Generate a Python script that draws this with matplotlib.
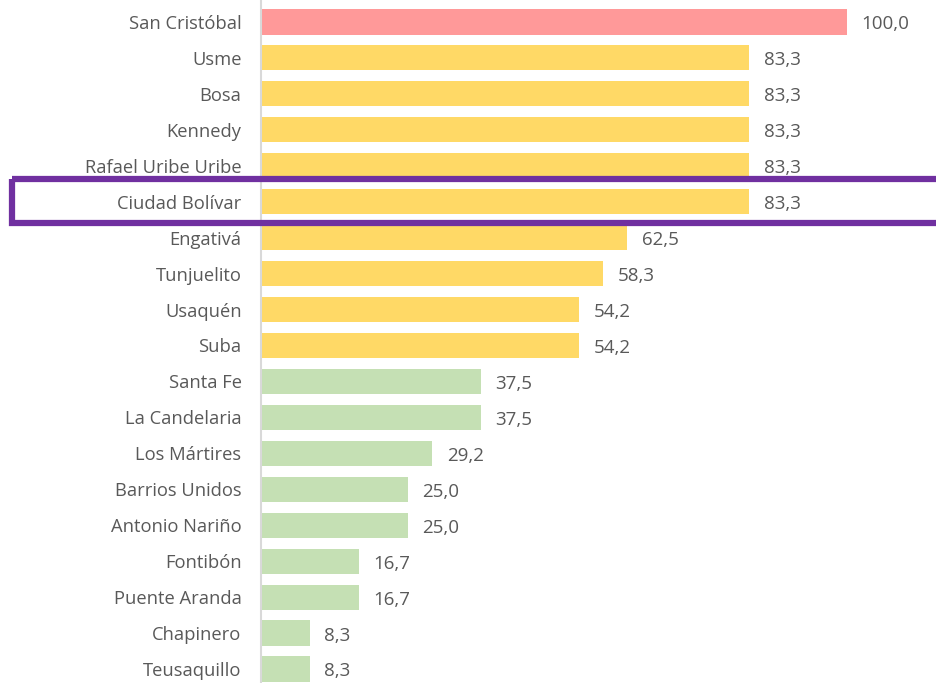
import matplotlib
matplotlib.use("Agg")
import matplotlib.pyplot as plt
import matplotlib.transforms as mtransforms
from matplotlib.patches import Rectangle

categories = ["San Cristóbal", "Usme", "Bosa", "Kennedy", "Rafael Uribe Uribe",
              "Ciudad Bolívar", "Engativá", "Tunjuelito", "Usaquén", "Suba",
              "Santa Fe", "La Candelaria", "Los Mártires", "Barrios Unidos",
              "Antonio Nariño", "Fontibón", "Puente Aranda", "Chapinero", "Teusaquillo"]
values = [100.0, 83.3, 83.3, 83.3, 83.3, 83.3, 62.5, 58.3, 54.2, 54.2,
          37.5, 37.5, 29.2, 25.0, 25.0, 16.7, 16.7, 8.3, 8.3]
highlight = "Ciudad Bolívar"

def color_for(v):
    if v >= 90:
        return "#FF9999"
    if v >= 50:
        return "#FFD966"
    return "#C5E0B4"

plt.rcParams['font.family'] = ['Open Sans', 'DejaVu Sans']
text_color = "#595959"

fig = plt.figure(figsize=(9.37, 6.83), dpi=100)
ax = fig.add_axes([261/937, 0, 674/937, 1])

y = list(range(len(categories)))
ax.barh(y, values, height=0.7, color=[color_for(v) for v in values])
ax.set_xlim(0, 115)
ax.set_ylim(18.39, -0.61)

for yi, v in zip(y, values):
    ax.text(v + 2.5, yi + 0.07, f"{v:.1f}".replace(".", ","), va="center", ha="left",
            fontsize=13.5, color=text_color)

ax.set_yticks(y)
ax.set_yticklabels(categories, fontsize=13.2, color=text_color)
ax.tick_params(axis="y", length=0, pad=14)
ax.set_xticks([])
for s in ["top", "right", "bottom"]:
    ax.spines[s].set_visible(False)
ax.spines["left"].set_color("#D9D9D9")
ax.spines["left"].set_linewidth(1.5)

idx = categories.index(highlight)
trans = mtransforms.blended_transform_factory(fig.transFigure, ax.transData)
rect = Rectangle((12/937, idx - 0.62), 1.2, 1.2, transform=trans, fill=False,
                 edgecolor="#7030A0", linewidth=4.5, clip_on=False)
fig.add_artist(rect)

fig.savefig("out.png", dpi=100)
